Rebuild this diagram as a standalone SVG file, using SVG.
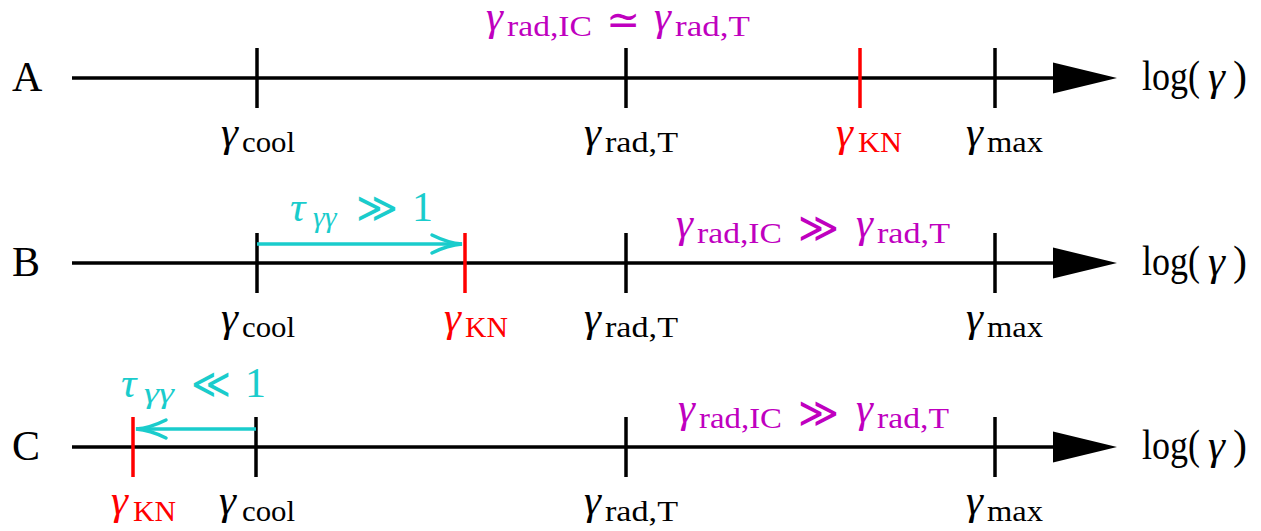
<svg xmlns="http://www.w3.org/2000/svg" width="1261" height="531" viewBox="0 0 1261 531">
<style>
text{font-family:"Liberation Serif","DejaVu Serif",serif;}
.m{font-size:42px;}
.s{font-size:30px;}
.gr{font-size:43px;font-style:italic;}
.gs{font-size:30px;font-style:italic;}
.k{fill:#000;}
.r{fill:#FF0000;}
.g{fill:#BF00BF;}
.c{fill:#1ACCCC;}
.ax{stroke:#000;stroke-width:3.5;fill:none;}
.tk{stroke:#000;stroke-width:3.5;}
.tr{stroke:#FF0000;stroke-width:3.5;}
.head{fill:#000;stroke:none;}
.carrow{stroke:#1ACCCC;stroke-width:3.5;fill:none;}
</style>
<defs>
<marker id="chev" viewBox="-33 -12 36 24" markerWidth="36" markerHeight="24" refX="0" refY="0" orient="auto" markerUnits="userSpaceOnUse">
<path d="M -30 -9 Q -14 -1 0 0 Q -14 1 -30 9" stroke="#1ACCCC" stroke-width="3.5" fill="none" stroke-linecap="round"/>
</marker>
</defs>

<g id="rowA">
<text class="m k" x="12" y="91">A</text>
<line class="ax" x1="72" y1="78" x2="1060" y2="78"/>
<polygon class="head" points="1053,62.5 1117,78 1053,93.5"/>
<text class="m k" x="1142" y="90" textLength="58" lengthAdjust="spacingAndGlyphs">log(</text><text class="gr k" x="1208" y="90">γ</text><text class="m k" x="1233" y="90">)</text>
<line class="tk" x1="257" y1="48" x2="257" y2="108"/>
<line class="tk" x1="626" y1="48" x2="626" y2="108"/>
<line class="tr" x1="860" y1="48" x2="860" y2="108"/>
<line class="tk" x1="995" y1="48" x2="995" y2="108"/>
<text class="gr k" x="221" y="146">γ</text><text class="s k" x="242" y="152" textLength="53" lengthAdjust="spacingAndGlyphs">cool</text>
<text class="gr k" x="584" y="146">γ</text><text class="s k" x="605" y="152" textLength="73" lengthAdjust="spacingAndGlyphs">rad,T</text>
<text class="gr r" x="836" y="146">γ</text><text class="s r" x="858" y="152" textLength="44" lengthAdjust="spacingAndGlyphs">KN</text>
<text class="gr k" x="966" y="146">γ</text><text class="s k" x="987" y="152" textLength="56" lengthAdjust="spacingAndGlyphs">max</text>
<text class="gr g" x="486" y="30">γ</text><text class="s g" x="507" y="36" textLength="85" lengthAdjust="spacingAndGlyphs">rad,IC</text>
<text class="m g" x="606" y="34" textLength="34" lengthAdjust="spacingAndGlyphs">≃</text>
<text class="gr g" x="654" y="30">γ</text><text class="s g" x="675" y="36" textLength="75" lengthAdjust="spacingAndGlyphs">rad,T</text>
</g>

<g id="rowB">
<text class="m k" x="12" y="276">B</text>
<line class="ax" x1="72" y1="263" x2="1060" y2="263"/>
<polygon class="head" points="1053,247.5 1117,263 1053,278.5"/>
<text class="m k" x="1142" y="275" textLength="58" lengthAdjust="spacingAndGlyphs">log(</text><text class="gr k" x="1208" y="275">γ</text><text class="m k" x="1233" y="275">)</text>
<line class="tk" x1="257" y1="233" x2="257" y2="293"/>
<line class="tr" x1="465" y1="233" x2="465" y2="293"/>
<line class="tk" x1="626" y1="233" x2="626" y2="293"/>
<line class="tk" x1="995" y1="233" x2="995" y2="293"/>
<text class="gr k" x="221" y="331">γ</text><text class="s k" x="242" y="337" textLength="53" lengthAdjust="spacingAndGlyphs">cool</text>
<text class="gr r" x="444" y="331">γ</text><text class="s r" x="465" y="337" textLength="43" lengthAdjust="spacingAndGlyphs">KN</text>
<text class="gr k" x="584" y="331">γ</text><text class="s k" x="605" y="337" textLength="73" lengthAdjust="spacingAndGlyphs">rad,T</text>
<text class="gr k" x="966" y="331">γ</text><text class="s k" x="987" y="337" textLength="56" lengthAdjust="spacingAndGlyphs">max</text>
<text class="gr g" x="676" y="237">γ</text><text class="s g" x="697" y="243" textLength="85" lengthAdjust="spacingAndGlyphs">rad,IC</text>
<text class="m g" x="798" y="242" textLength="41" lengthAdjust="spacingAndGlyphs">≫</text>
<text class="gr g" x="856" y="237">γ</text><text class="s g" x="877" y="243" textLength="73" lengthAdjust="spacingAndGlyphs">rad,T</text>
<text class="gr c" x="290" y="221">τ</text><text class="gs c" x="313" y="227">γγ</text>
<text class="m c" x="356" y="222" textLength="42" lengthAdjust="spacingAndGlyphs">≫</text>
<text class="m c" x="412" y="221">1</text>
</g>

<g id="rowC">
<text class="m k" x="12" y="460">C</text>
<line class="ax" x1="72" y1="447" x2="1060" y2="447"/>
<polygon class="head" points="1053,431.5 1117,447 1053,462.5"/>
<text class="m k" x="1142" y="459" textLength="58" lengthAdjust="spacingAndGlyphs">log(</text><text class="gr k" x="1208" y="459">γ</text><text class="m k" x="1233" y="459">)</text>
<line class="tr" x1="133" y1="417" x2="133" y2="477"/>
<line class="tk" x1="256" y1="417" x2="256" y2="477"/>
<line class="tk" x1="626" y1="417" x2="626" y2="477"/>
<line class="tk" x1="995" y1="417" x2="995" y2="477"/>
<text class="gr r" x="111" y="514">γ</text><text class="s r" x="133" y="521" textLength="43" lengthAdjust="spacingAndGlyphs">KN</text>
<text class="gr k" x="219" y="514">γ</text><text class="s k" x="242" y="521" textLength="53" lengthAdjust="spacingAndGlyphs">cool</text>
<text class="gr k" x="584" y="514">γ</text><text class="s k" x="605" y="521" textLength="73" lengthAdjust="spacingAndGlyphs">rad,T</text>
<text class="gr k" x="966" y="514">γ</text><text class="s k" x="987" y="521" textLength="56" lengthAdjust="spacingAndGlyphs">max</text>
<text class="gr g" x="678" y="422">γ</text><text class="s g" x="699" y="428" textLength="83" lengthAdjust="spacingAndGlyphs">rad,IC</text>
<text class="m g" x="798" y="427" textLength="41" lengthAdjust="spacingAndGlyphs">≫</text>
<text class="gr g" x="856" y="422">γ</text><text class="s g" x="877" y="428" textLength="72" lengthAdjust="spacingAndGlyphs">rad,T</text>
<text class="gr c" x="121" y="397">τ</text><text class="gs c" x="144" y="403" textLength="30" lengthAdjust="spacingAndGlyphs">γγ</text>
<text class="m c" x="191" y="398" textLength="40" lengthAdjust="spacingAndGlyphs">≪</text>
<text class="m c" x="245" y="397">1</text>
</g>

<g id="connectors">
<line class="carrow" x1="257" y1="244" x2="462" y2="244" marker-end="url(#chev)"/>
<line class="carrow" x1="256" y1="429" x2="136" y2="429" marker-end="url(#chev)"/>
</g>
</svg>
